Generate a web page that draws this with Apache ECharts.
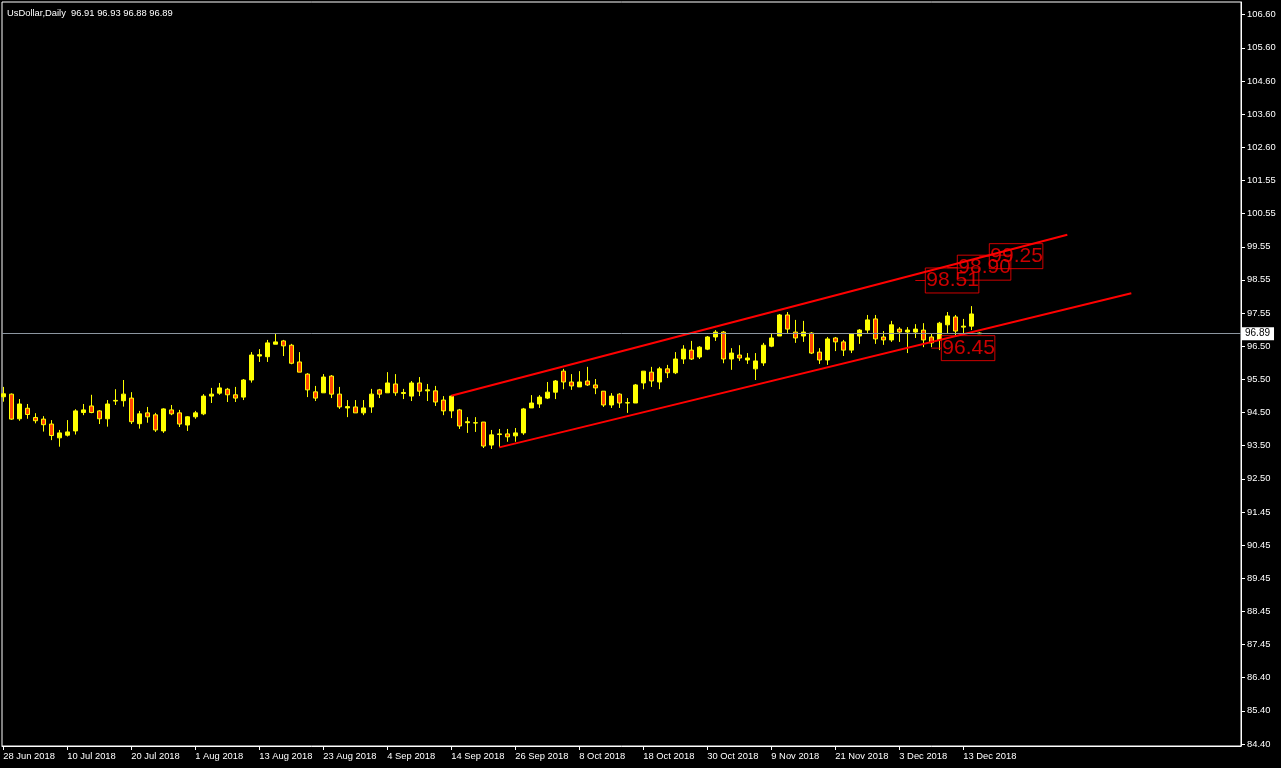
<!DOCTYPE html>
<html>
<head>
<meta charset="utf-8">
<script src="https://cdn.jsdelivr.net/npm/echarts@6/dist/echarts.min.js"></script>
<style>
html,body{margin:0;padding:0;background:#000;}
#chart{width:1281px;height:768px;}
</style>
</head>
<body>
<div id="chart"></div>
<script>
// ---- data (bar index 0 = 28 Jun 2018, daily bars) ----
const titleText = 'UsDollar,Daily  96.91 96.93 96.88 96.89';
const opens  = [94.97,95.05,94.30,94.62,94.34,94.29,94.14,93.72,93.80,93.93,94.49,94.69,94.54,94.30,94.84,94.85,94.93,94.15,94.48,94.42,93.93,94.57,94.48,94.11,94.36,94.45,94.99,95.08,95.20,95.03,94.96,95.48,96.21,96.19,96.57,96.67,96.54,96.03,95.66,95.12,95.09,95.60,95.05,94.63,94.66,94.48,94.66,95.18,95.09,95.36,95.07,94.99,95.39,95.15,95.15,94.87,94.54,94.57,94.18,94.17,94.20,93.50,93.82,93.84,93.78,93.87,94.63,94.75,94.93,95.11,95.75,95.42,95.27,95.45,95.33,95.14,94.72,95.05,94.78,94.78,95.39,95.72,95.42,95.82,95.70,96.12,96.39,96.18,96.42,96.79,96.94,96.12,96.24,96.09,95.82,96.00,96.51,96.82,97.46,96.94,96.82,96.91,96.33,96.09,96.76,96.64,96.39,96.82,97.00,97.34,96.79,96.70,97.03,96.94,96.94,97.00,96.79,96.70,97.16,97.40,97.09,97.12,96.91];
const highs  = [95.27,95.07,94.90,94.75,94.47,94.38,94.26,93.96,94.26,94.59,94.75,95.03,94.56,94.87,95.20,95.48,95.11,94.54,94.66,94.48,94.62,94.72,94.57,94.38,94.54,95.05,95.24,95.39,95.24,95.27,95.51,96.33,96.42,96.70,96.88,96.70,96.58,96.33,95.69,95.30,95.66,95.63,95.27,94.87,94.87,94.87,95.21,95.21,95.72,95.66,95.21,95.45,95.57,95.36,95.30,94.99,95.02,94.60,94.35,94.35,94.20,93.96,93.99,93.99,94.02,94.63,95.02,95.02,95.42,95.48,95.82,95.66,95.75,95.88,95.51,95.14,95.08,95.08,94.93,95.36,95.75,95.88,95.88,95.94,96.33,96.54,96.67,96.51,96.82,97.00,96.97,96.45,96.54,96.30,96.30,96.61,96.88,97.49,97.55,97.31,97.28,96.94,96.45,96.79,96.79,96.70,96.91,97.03,97.46,97.46,96.97,97.28,97.09,97.09,97.18,97.21,96.88,97.25,97.55,97.46,97.34,97.73,96.93];
const lows   = [94.82,94.27,94.24,94.30,94.16,93.91,93.65,93.45,93.76,93.82,94.41,94.47,94.14,94.06,94.72,94.67,94.14,94.00,94.18,93.90,93.87,94.41,94.05,93.93,94.30,94.41,94.78,95.03,94.81,94.81,94.87,95.40,96.03,96.03,96.57,96.21,95.96,95.72,94.96,94.84,95.09,94.93,94.60,94.35,94.48,94.41,94.48,94.93,95.09,95.00,94.90,94.84,94.99,94.84,94.69,94.41,94.32,93.99,93.87,93.90,93.41,93.38,93.44,93.60,93.60,93.81,94.63,94.63,94.90,94.90,95.20,95.18,95.27,95.30,95.05,94.66,94.63,94.63,94.48,94.78,95.20,95.27,95.20,95.54,95.66,95.97,96.09,96.12,96.39,96.67,95.99,95.79,96.06,95.97,95.48,95.91,96.48,96.82,96.88,96.61,96.64,96.27,95.97,95.94,96.36,96.21,96.30,96.58,96.88,96.58,96.55,96.64,96.64,96.30,96.76,96.48,96.48,96.39,96.91,96.85,96.91,97.00,96.88];
const closes = [95.06,94.29,94.75,94.43,94.24,94.12,93.79,93.87,93.90,94.54,94.57,94.49,94.30,94.75,94.86,95.05,94.21,94.45,94.36,93.96,94.60,94.45,94.14,94.36,94.48,94.99,95.05,95.24,95.03,94.93,95.48,96.24,96.25,96.61,96.64,96.52,95.99,95.72,95.18,94.93,95.57,95.05,94.66,94.67,94.48,94.63,95.05,95.05,95.39,95.09,95.10,95.39,95.14,95.18,94.81,94.54,94.99,94.08,94.21,94.18,93.47,93.81,93.84,93.75,93.87,94.60,94.78,94.96,95.11,95.45,95.42,95.30,95.42,95.33,95.24,94.72,94.99,94.78,94.79,95.33,95.75,95.45,95.82,95.70,96.12,96.42,96.12,96.48,96.79,96.94,96.12,96.30,96.15,96.15,96.06,96.54,96.76,97.46,97.03,96.76,96.94,96.30,96.09,96.73,96.64,96.39,96.88,97.00,97.31,96.73,96.70,97.16,96.94,97.00,97.03,96.70,96.61,97.21,97.43,96.97,97.12,97.49,96.89];

const xTickBars   = [0, 8, 16, 24, 32, 40, 48, 56, 64, 72, 80, 88, 96, 104, 112, 120];
const xTickLabels = ['28 Jun 2018','10 Jul 2018','20 Jul 2018','1 Aug 2018','13 Aug 2018','23 Aug 2018','4 Sep 2018','14 Sep 2018','26 Sep 2018','8 Oct 2018','18 Oct 2018','30 Oct 2018','9 Nov 2018','21 Nov 2018','3 Dec 2018','13 Dec 2018'];
const yTickLabels = ['84.40','85.40','86.40','87.45','88.45','89.45','90.45','91.45','92.50','93.50','94.50','95.50','96.50','97.55','98.55','99.55','100.55','101.55','102.60','103.60','104.60','105.60','106.60'];

const currentPrice = 96.89;
const upperLine = [[56, 95.00], [133, 99.90]];
const lowerLine = [[62, 93.43], [141, 98.12]];
const priceLabelBars   = [114, 118, 122, 116];
const priceLabelValues = [98.51, 98.90, 99.25, 96.45];

// ---- build ----
const yMin = 84.339, yMax = 106.987;
const yFirst = parseFloat(yTickLabels[0]);
const yLast = parseFloat(yTickLabels[yTickLabels.length - 1]);
const yStep = (yLast - yFirst) / (yTickLabels.length - 1);
const yTickValues = yTickLabels.map((_, i) => yFirst + i * yStep);

const candleData = opens.map((o, i) => [i, o, closes[i], lows[i], highs[i]]);
const labelData = priceLabelBars.map((b, i) => [b, priceLabelValues[i]]);

const FONT = 'Liberation Sans';
const SMALL = 9.4;
const chart = echarts.init(document.getElementById('chart'), null, {renderer: 'canvas'});
chart.setOption({
  backgroundColor: '#000000',
  animation: false,
  title: {
    text: titleText, left: 2, top: 4,
    textStyle: {color: '#ffffff', fontSize: SMALL, fontWeight: 'normal', fontFamily: FONT}
  },
  grid: {left: 2, top: 2, right: 40, bottom: 22, show: true, borderColor: '#ffffff', borderWidth: 1, backgroundColor: 'transparent'},
  xAxis: {
    type: 'value', min: -0.1625, max: 154.7125,
    axisLine: {show: true, lineStyle: {color: '#ffffff', width: 1}},
    axisTick: {show: true, length: 4, customValues: xTickBars, lineStyle: {color: '#ffffff'}},
    axisLabel: {
      show: true, customValues: xTickBars, align: 'left', margin: 6,
      color: '#ffffff', fontSize: SMALL, fontFamily: FONT,
      formatter: v => { const i = xTickBars.indexOf(Math.round(v)); return i >= 0 ? xTickLabels[i] : ''; }
    },
    splitLine: {show: false}
  },
  yAxis: {
    type: 'value', position: 'right', min: yMin, max: yMax, scale: true,
    axisLine: {show: true, onZero: false, lineStyle: {color: '#ffffff', width: 1}},
    axisTick: {show: true, length: 4, customValues: yTickValues, lineStyle: {color: '#ffffff'}},
    axisLabel: {
      show: true, customValues: yTickValues, margin: 6,
      color: '#ffffff', fontSize: SMALL, fontFamily: FONT,
      formatter: v => {
        let best = 0, bd = Infinity;
        yTickValues.forEach((t, i) => { const d = Math.abs(t - v); if (d < bd) { bd = d; best = i; } });
        return yTickLabels[best];
      }
    },
    splitLine: {show: false}
  },
  series: [
    {
      type: 'candlestick',
      data: candleData,
      encode: {x: 0, y: [1, 2, 3, 4]},
      barWidth: 4,
      itemStyle: {color: '#FFFF00', color0: '#FF4500', borderColor: '#FFFF00', borderColor0: '#FFFF00', borderWidth: 1},
      markLine: {
        silent: true, symbol: ['none', 'none'],
        lineStyle: {color: '#8C96A0', width: 1, type: 'solid'},
        label: {
          show: true, position: 'end', distance: 1,
          formatter: currentPrice.toFixed(2),
          backgroundColor: '#ffffff', color: '#000000', fontSize: 10, fontFamily: FONT, padding: [2, 4, 1, 3]
        },
        data: [{yAxis: currentPrice}]
      },
      z: 3
    },
    {
      type: 'line', data: upperLine, showSymbol: false, symbol: 'none',
      lineStyle: {color: '#FF0000', width: 2}, z: 4, silent: true
    },
    {
      type: 'line', data: lowerLine, showSymbol: false, symbol: 'none',
      lineStyle: {color: '#FF0000', width: 2}, z: 4, silent: true
    },
    {
      type: 'scatter', data: labelData,
      symbol: 'rect', symbolSize: [10, 1], symbolOffset: [5, 0],
      itemStyle: {color: '#FF0000'},
      label: {
        show: true, position: 'right', distance: 0,
        formatter: p => p.value[1].toFixed(2),
        color: '#FF0000', fontSize: 21, fontFamily: FONT,
        borderColor: '#FF0000', borderWidth: 1, padding: [2, 0, 1, 1], lineHeight: 22
      },
      z: 5, silent: true
    }
  ]
});
</script>
</body>
</html>
